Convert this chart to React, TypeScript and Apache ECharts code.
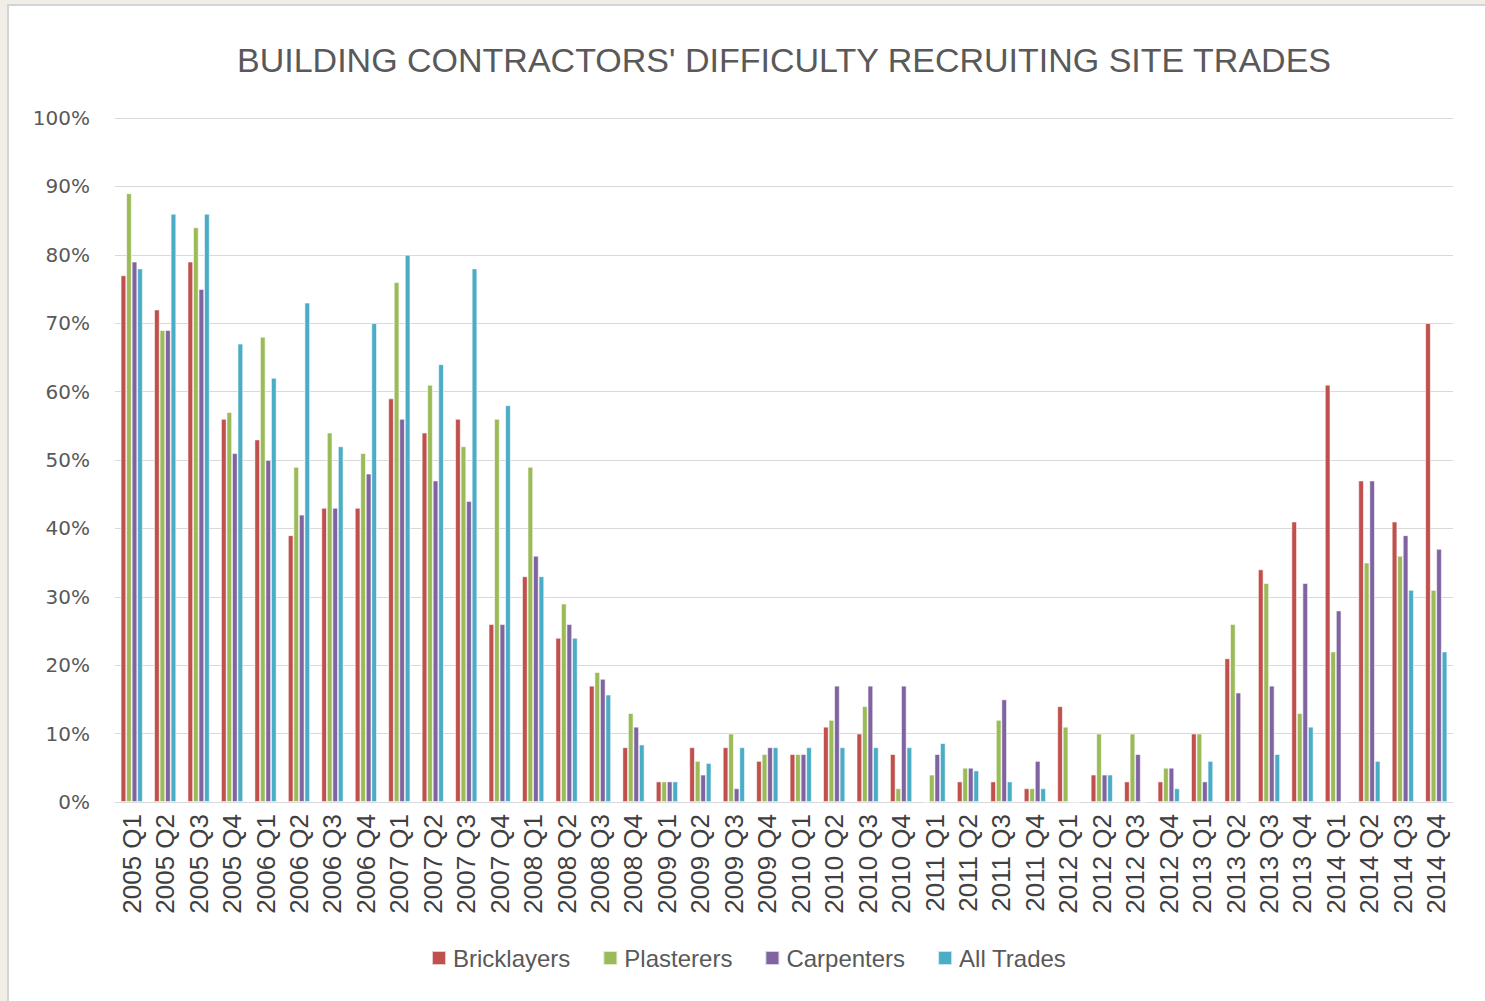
import React, { useEffect, useRef } from "react";
import * as echarts from "echarts";

const categories = [
  "2005 Q1","2005 Q2","2005 Q3","2005 Q4",
  "2006 Q1","2006 Q2","2006 Q3","2006 Q4",
  "2007 Q1","2007 Q2","2007 Q3","2007 Q4",
  "2008 Q1","2008 Q2","2008 Q3","2008 Q4",
  "2009 Q1","2009 Q2","2009 Q3","2009 Q4",
  "2010 Q1","2010 Q2","2010 Q3","2010 Q4",
  "2011 Q1","2011 Q2","2011 Q3","2011 Q4",
  "2012 Q1","2012 Q2","2012 Q3","2012 Q4",
  "2013 Q1","2013 Q2","2013 Q3","2013 Q4",
  "2014 Q1","2014 Q2","2014 Q3","2014 Q4",
];

const bricklayers = [
  77, 72, 79, 56, 53, 39, 43, 43, 59, 54, 56, 26, 33, 24, 17, 8,
  3, 8, 8, 6, 7, 11, 10, 7, 0, 3, 3, 2, 14, 4, 3, 3,
  10, 21, 34, 41, 61, 47, 41, 70,
];
const plasterers = [
  89, 69, 84, 57, 68, 49, 54, 51, 76, 61, 52, 56, 49, 29, 19, 13,
  3, 6, 10, 7, 7, 12, 14, 2, 4, 5, 12, 2, 11, 10, 10, 5,
  10, 26, 32, 13, 22, 35, 36, 31,
];
const carpenters = [
  79, 69, 75, 51, 50, 42, 43, 48, 56, 47, 44, 26, 36, 26, 18, 11,
  3, 4, 2, 8, 7, 17, 17, 17, 7, 5, 15, 6, 0, 4, 7, 5,
  3, 16, 17, 32, 28, 47, 39, 37,
];
const allTrades = [
  78, 86, 86, 67, 62, 73, 52, 70, 80, 64, 78, 58, 33, 24, 15.7, 8.4,
  3, 5.7, 8, 8, 8, 8, 8, 8, 8.6, 4.6, 3, 2, 0, 4, 0, 2,
  6, 0, 7, 11, 0, 6, 31, 22,
];

const seriesNames = ["Bricklayers", "Plasterers", "Carpenters", "All Trades"];
const seriesColors = ["#C0504D", "#9BBB59", "#8064A2", "#4BACC6"];
const seriesData = [bricklayers, plasterers, carpenters, allTrades];

const yTicks = [0, 10, 20, 30, 40, 50, 60, 70, 80, 90, 100];

export default function App() {
  const ref = useRef<HTMLDivElement>(null);

  useEffect(() => {
    if (!ref.current) return;
    const chart = echarts.init(ref.current, undefined, { renderer: "svg" });
    chart.setOption({
      animation: false,
      backgroundColor: "#f1eee7",
      graphic: [
        {
          type: "rect",
          shape: { x: 8, y: 5, width: 1490, height: 1010 },
          style: { fill: "#ffffff", stroke: "#d4d4d4", lineWidth: 2 },
          z: -10,
        },
        {
          type: "text",
          x: 784,
          y: 60,
          style: {
            text: "BUILDING CONTRACTORS' DIFFICULTY RECRUITING SITE TRADES",
            fill: "#595959",
            font: "34px 'Liberation Sans', Arial, sans-serif",
            align: "center",
            verticalAlign: "middle",
          },
        },
      ],
      legend: {
        data: seriesNames,
        left: 431,
        top: 946,
        padding: 0,
        icon: "rect",
        itemWidth: 14,
        itemHeight: 14,
        itemGap: 32,
        textStyle: {
          color: "#595959",
          fontSize: 24,
          padding: [0, 0, 0, 2],
          fontFamily: "'Liberation Sans', Arial, sans-serif",
        },
      },
      grid: { left: 115, right: 32, top: 118, bottom: 199, containLabel: false },
      xAxis: {
        type: "category",
        data: categories,
        axisLine: { show: true, lineStyle: { color: "#d9d9d9", width: 1 } },
        axisTick: { show: false },
        axisLabel: {
          rotate: 90,
          interval: 0,
          margin: 12,
          color: "#404040",
          fontSize: 26,
          fontFamily: "'Liberation Sans', Arial, sans-serif",
        },
      },
      yAxis: {
        type: "value",
        min: 0,
        max: 100,
        interval: 10,
        axisLine: { show: false },
        axisTick: { show: false },
        splitLine: { lineStyle: { color: "#d9d9d9", width: 1 } },
        axisLabel: {
          margin: 25,
          color: "#595959",
          fontSize: 20,
          fontFamily: "'DejaVu Sans', Verdana, sans-serif",
          formatter: (v: number) => (yTicks.includes(v) ? v + "%" : ""),
        },
      },
      series: seriesNames.map((name, i) => ({
        name,
        type: "bar",
        data: seriesData[i],
        barGap: "0%",
        barCategoryGap: "34%",
        itemStyle: {
          color: seriesColors[i],
          borderColor: "rgba(255,255,255,0.7)",
          borderWidth: 0.8,
        },
      })),
    });
    return () => chart.dispose();
  }, []);

  return (
    <div
      ref={ref}
      style={{ position: "absolute", left: 0, top: 0, width: 1485, height: 1001 }}
    />
  );
}
